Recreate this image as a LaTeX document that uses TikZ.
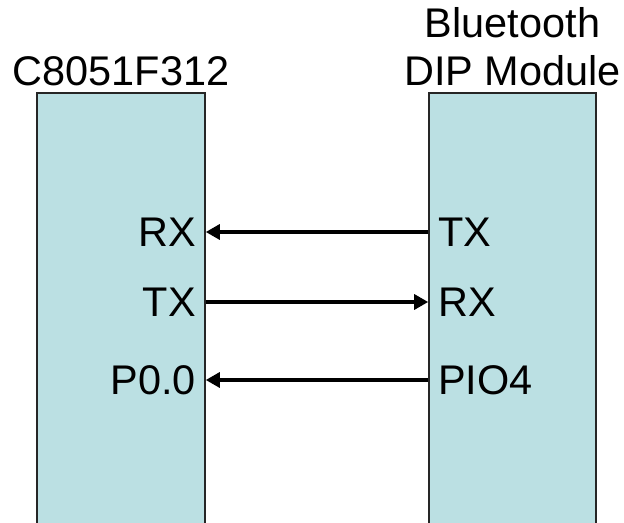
\documentclass[tikz,border=0pt]{standalone}
\usepackage{fontspec}
\setmainfont{Liberation Sans}
\usepackage{tikz}
\usetikzlibrary{arrows.meta}
\definecolor{chipfill}{RGB}{187,224,227}

\begin{document}
\begin{tikzpicture}[
    x=1bp,y=1bp,
    chip box/.style={draw=black!85,line width=1.6bp,fill=chipfill,
      minimum width=168bp,minimum height=440bp,inner sep=0pt},
    chip title/.style={inner sep=0pt,align=center,text depth=0pt,
      font=\fontsize{41.6}{48}\selectfont},
    pin label/.style={inner sep=0pt,text height=29bp,text depth=0pt,
      font=\fontsize{41.6}{48}\selectfont},
    sig arrow/.style={-{Triangle[length=14bp,width=15bp]},line width=3.2bp}
  ]
    \useasboundingbox (0,0) rectangle (624,523);
    \node[chip box] (mcu) at (121,210) {};
    \node[chip box,minimum width=167bp] (bt) at (512.5,210) {};
    \node[chip title,anchor=south] (mcutitle) at (121,437) {C8051F312};
    \node[chip title,anchor=south] (bttitle) at (512.5,437) {Bluetooth\\DIP Module};
    \node[pin label,anchor=east] (mcuRX) at (196,291) {RX};
    \node[pin label,anchor=east] (mcuTX) at (196,221) {TX};
    \node[pin label,anchor=east] (mcuP) at (196,143) {P0.0};
    \node[pin label,anchor=west] (btTX) at (438,291) {TX};
    \node[pin label,anchor=west] (btRX) at (438,221) {RX};
    \node[pin label,anchor=west] (btPIO) at (438,143) {PIO4};
    \draw[sig arrow] (btTX.west -| bt.west) -- (mcuRX.east -| mcu.east);
    \draw[sig arrow] (mcuTX.east -| mcu.east) -- (btRX.west -| bt.west);
    \draw[sig arrow] (btPIO.west -| bt.west) -- (mcuP.east -| mcu.east);
  \end{tikzpicture}
\end{document}
